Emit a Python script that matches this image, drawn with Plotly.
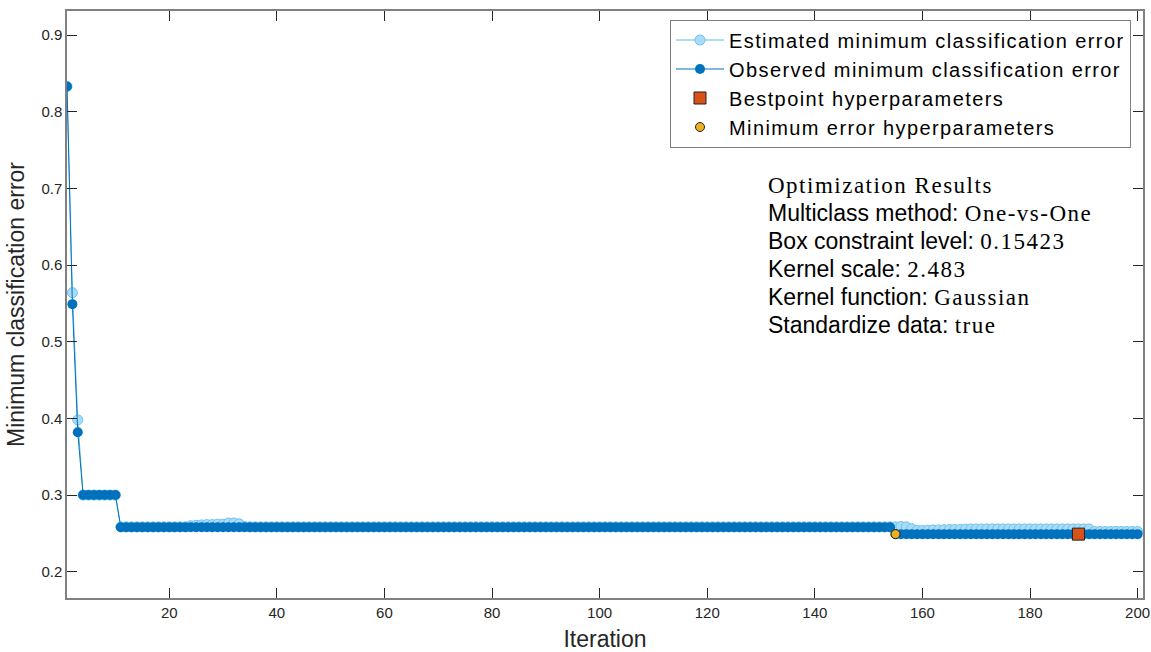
import plotly.graph_objects as go

# ---------------- data ----------------
iterations = list(range(1, 201))

observed = ([0.833, 0.549, 0.382] + [0.300] * 7 + [0.258] * 144 + [0.249] * 46)

estimated = ([0.833, 0.564, 0.398] + [0.300] * 7 + [0.2585] * 13 +
             [0.260, 0.2605, 0.261, 0.2615, 0.2615, 0.262, 0.262, 0.2635, 0.2635, 0.2625, 0.259] +
             [0.2585] * 120 +
             [0.2585, 0.259, 0.2585, 0.256, 0.254, 0.2538, 0.254, 0.2545, 0.2545, 0.2548, 0.255,
              0.255, 0.2552, 0.2555] +
             [0.2558] * 23 + [0.2525] * 9)

best_x = [189]
best_y = [0.249]
minerr_x = [155]
minerr_y = [0.249]

x_ticks = [20, 40, 60, 80, 100, 120, 140, 160, 180, 200]
y_ticks = [0.2, 0.3, 0.4, 0.5, 0.6, 0.7, 0.8, 0.9]

series_names = [
    "Estimated minimum classification error",
    "Observed minimum classification error",
    "Bestpoint hyperparameters",
    "Minimum error hyperparameters",
]

info_lines = [
    ("", "Optimization Results"),
    ("Multiclass method: ", "One-vs-One"),
    ("Box constraint level: ", "0.15423"),
    ("Kernel scale: ", "2.483"),
    ("Kernel function: ", "Gaussian"),
    ("Standardize data: ", "true"),
]

# ---------------- figure ----------------
W, H = 1151, 652
ml, mr, mt, mb = 67, 8, 11, 54
pw, ph = W - ml - mr, H - mt - mb


def leg(name):
    return "<span style='letter-spacing:1.4px'>" + name + "</span>"


fig = go.Figure()
fig.add_trace(go.Scatter(
    x=iterations, y=estimated, mode="lines+markers",
    name=leg(series_names[0]), legendgroup="a",
    line=dict(color="#5BBCEB", width=1),
    marker=dict(symbol="circle", size=10, color="#A8DCF8",
                line=dict(color="#6EC3EE", width=1)),
))
fig.add_trace(go.Scatter(
    x=iterations, y=observed, mode="lines+markers",
    name=leg(series_names[1]), legendgroup="b",
    line=dict(color="#0072BD", width=1),
    marker=dict(symbol="circle", size=10, color="#0072BD",
                line=dict(color="#0072BD", width=0)),
))
fig.add_trace(go.Scatter(
    x=best_x, y=best_y, mode="markers",
    name=leg(series_names[2]), legendgroup="c",
    marker=dict(symbol="square", size=12, color="#D95319",
                line=dict(color="#222222", width=1)),
))
fig.add_trace(go.Scatter(
    x=minerr_x, y=minerr_y, mode="markers",
    name=leg(series_names[3]), legendgroup="d",
    marker=dict(symbol="circle", size=9, color="#EDB120",
                line=dict(color="#222222", width=1)),
))

axis_common = dict(
    showgrid=False, zeroline=False, showline=True, linecolor="#808080",
    linewidth=1.5, mirror="ticks", ticks="inside", ticklen=10, tickwidth=1,
    tickcolor="#262626", automargin=False,
    tickfont=dict(family="Liberation Sans, Arial", size=15, color="#262626"),
)

fig.update_layout(
    width=W, height=H,
    margin=dict(l=ml, r=mr, t=mt, b=mb),
    paper_bgcolor="white", plot_bgcolor="white",
    font=dict(family="Liberation Sans, Arial", color="#262626"),
    xaxis=dict(range=[1, 201], tickvals=x_ticks,
               title=dict(text="Iteration", font=dict(size=23, color="#262626"), standoff=14),
               **axis_common),
    yaxis=dict(range=[0.1657, 0.9314], tickvals=y_ticks, tickformat=".1f",
               title=dict(text="Minimum classification error", font=dict(size=23, color="#262626"),
                          standoff=10),
               **axis_common),
    legend=dict(
        x=(1131 - ml) / pw, xanchor="right",
        y=1 - (19.5 - mt) / ph, yanchor="top",
        bgcolor="white", bordercolor="#808080", borderwidth=1,
        font=dict(family="Liberation Sans, Arial", size=20, color="#000000"),
        tracegroupgap=0, itemwidth=48,
    ),
    showlegend=True,
)

y_centers = [185, 213, 241, 269, 297, 325]
for (lab, val), yc in zip(info_lines, y_centers):
    txt = lab + "<span style='font-family:Liberation Serif;letter-spacing:1.5px'>" + val + "</span>"
    fig.add_annotation(
        xref="paper", yref="paper",
        x=(765.7 - ml) / pw, y=1 - (yc - mt) / ph,
        xanchor="left", yanchor="middle", showarrow=False,
        text=txt, font=dict(family="Liberation Sans, Arial", size=23, color="#000000"),
    )

fig.write_html("out.html",
               config={"displayModeBar": False},
               post_script="document.body.style.margin='0';document.body.style.overflow='hidden';")
